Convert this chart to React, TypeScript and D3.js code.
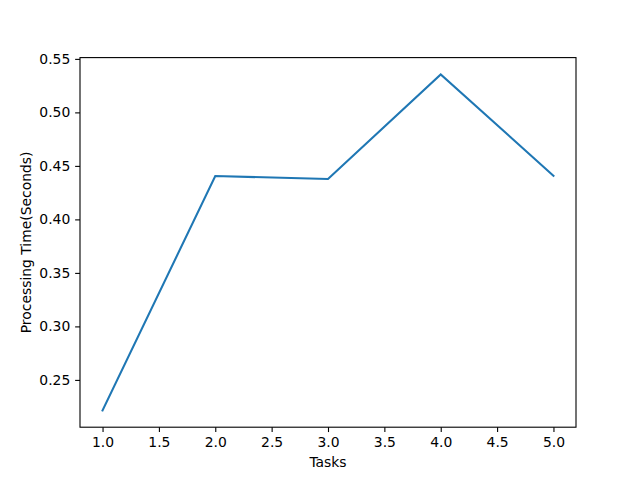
import React, { useEffect, useRef } from 'react';
import * as d3 from 'd3';

const tasks = [1, 2, 3, 4, 5];
const times = [0.2215, 0.4405, 0.4378, 0.5355, 0.4408];
const xTicks = [1.0, 1.5, 2.0, 2.5, 3.0, 3.5, 4.0, 4.5, 5.0];
const yTicks = [0.25, 0.3, 0.35, 0.4, 0.45, 0.5, 0.55];

const width = 640;
const height = 480;
const margin = { top: 57.6, right: 64, bottom: 52.8, left: 80 };
const font = 'DejaVu Sans, sans-serif';

function pad(ext: [number, number]): [number, number] {
    const d = (ext[1] - ext[0]) * 0.05;
    return [ext[0] - d, ext[1] + d];
}

export default function App() {
    const ref = useRef<SVGSVGElement>(null);

    useEffect(() => {
        const svg = d3.select(ref.current);
        svg.selectAll('*').remove();

        const w = width - margin.left - margin.right;
        const h = height - margin.top - margin.bottom;

        const x = d3.scaleLinear()
            .domain(pad(d3.extent(tasks) as [number, number]))
            .range([0, w]);
        const y = d3.scaleLinear()
            .domain(pad(d3.extent(times) as [number, number]))
            .range([h, 0]);

        svg.append('rect').attr('width', width).attr('height', height).attr('fill', '#fff');

        const g = svg.append('g')
            .attr('transform', 'translate(' + margin.left + ',' + margin.top + ')');

        const line = d3.line<number>()
            .x((d, i) => x(tasks[i]))
            .y(d => y(d));

        g.append('path')
            .datum(times)
            .attr('d', line)
            .attr('fill', 'none')
            .attr('stroke', '#1f77b4')
            .attr('stroke-width', 2.08)
            .attr('stroke-linecap', 'square');

        // frame
        g.append('rect')
            .attr('width', w)
            .attr('height', h)
            .attr('fill', 'none')
            .attr('stroke', '#000')
            .attr('stroke-width', 1.1);

        // x axis
        const xAxis = g.append('g')
            .attr('transform', 'translate(0,' + h + ')')
            .call(d3.axisBottom(x).tickValues(xTicks).tickFormat(d3.format('.1f'))
                .tickSize(4.86).tickPadding(4.86).tickSizeOuter(0));
        // y axis
        const yAxis = g.append('g')
            .call(d3.axisLeft(y).tickValues(yTicks).tickFormat(d3.format('.2f'))
                .tickSize(4.86).tickPadding(4.86).tickSizeOuter(0));

        [xAxis, yAxis].forEach(a => {
            a.select('.domain').remove();
            a.selectAll('line').attr('stroke', '#000').attr('stroke-width', 1.1);
            a.selectAll('text')
                .attr('fill', '#000')
                .style('font-family', font)
                .style('font-size', '13.9px');
        });

        svg.append('text')
            .attr('x', margin.left + w / 2)
            .attr('y', 467)
            .attr('text-anchor', 'middle')
            .style('font-family', font)
            .style('font-size', '13.9px')
            .text('Tasks');

        svg.append('text')
            .attr('transform', 'translate(31,' + (margin.top + h / 2) + ') rotate(-90)')
            .attr('text-anchor', 'middle')
            .style('font-family', font)
            .style('font-size', '13.9px')
            .text('Processing Time(Seconds)');
    }, []);

    return (
        <div style={{ position: 'absolute', left: 0, top: 0 }}>
            <svg ref={ref} width={width} height={height} style={{ display: 'block' }}></svg>
        </div>
    );
}
